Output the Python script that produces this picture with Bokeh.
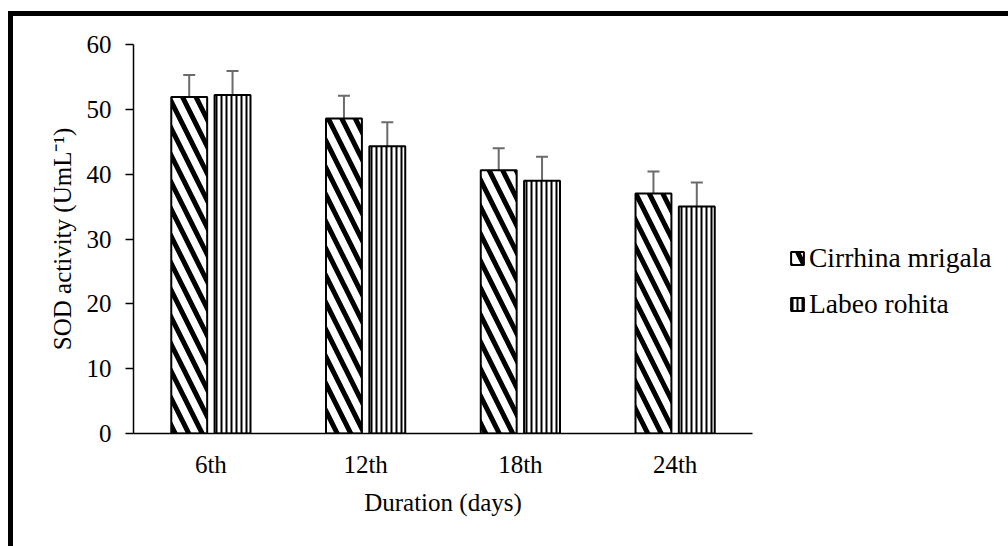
from bokeh.plotting import figure
from bokeh.models import (ColumnDataSource, FactorRange, Whisker, TeeHead, Legend,
                          LegendItem)
from bokeh.transform import dodge
from bokeh.embed import file_html
from bokeh.resources import INLINE

days = ["6th", "12th", "18th", "24th"]
cirrhina = [51.9, 48.6, 40.6, 37.0]
cirrhina_err = [3.4, 3.5, 3.4, 3.4]
labeo = [52.2, 44.3, 39.0, 35.0]
labeo_err = [3.7, 3.7, 3.7, 3.7]

src = ColumnDataSource(dict(
    days=days,
    c=cirrhina,
    c_up=[v + e for v, e in zip(cirrhina, cirrhina_err)],
    c_lo=[v - e for v, e in zip(cirrhina, cirrhina_err)],
    l=labeo,
    l_up=[v + e for v, e in zip(labeo, labeo_err)],
    l_lo=[v - e for v, e in zip(labeo, labeo_err)],
))

FONT = "Liberation Serif"

p = figure(width=995, height=530, frame_width=619, frame_height=389,
           x_range=FactorRange(*days, range_padding=0),
           y_range=(0, 60), output_backend="svg", toolbar_location=None,
           min_border_left=120, min_border_right=256, min_border_top=28,
           min_border_bottom=113,
           styles={"border-top": "5px solid black", "border-left": "5px solid black",
                   "margin-top": "11px", "margin-left": "8px"})
p.x_range.range_padding = 0
p.outline_line_color = None
p.xgrid.grid_line_color = None
p.ygrid.grid_line_color = None

bw = 0.232
rc = p.vbar(x=dodge("days", -0.14, range=p.x_range), top="c", width=bw, source=src,
            fill_color="white", line_color="black", line_width=2,
            hatch_pattern="left_diagonal_line", hatch_color="black",
            hatch_scale=27, hatch_weight=5)
rl = p.vbar(x=dodge("days", 0.14, range=p.x_range), top="l", width=bw, source=src,
            fill_color="white", line_color="black", line_width=2,
            hatch_pattern="vertical_line", hatch_color="black",
            hatch_scale=5, hatch_weight=2)

ecol = "#6b6b6b"
for base, up, lo in [(-0.14, "c_up", "c_lo"), (0.14, "l_up", "l_lo")]:
    w = Whisker(base=dodge("days", base, range=p.x_range), upper=up, lower=lo, source=src,
                line_color=ecol, line_width=2,
                upper_head=TeeHead(size=12, line_color=ecol, line_width=2),
                lower_head=TeeHead(size=12, line_color=ecol, line_width=2))
    p.add_layout(w)

# axes
p.yaxis.ticker = [0, 10, 20, 30, 40, 50, 60]
p.yaxis.minor_tick_line_color = None
p.yaxis.major_tick_in = 0
p.yaxis.major_tick_out = 8
p.yaxis.major_tick_line_color = "black"
p.yaxis.major_tick_line_width = 1.5
p.yaxis.axis_line_color = "black"
p.yaxis.axis_line_width = 1.5
p.yaxis.major_label_standoff = 14
p.yaxis.axis_label = "SOD activity (UmL\u207b\u00b9)"
p.yaxis.axis_label_standoff = 8

p.xaxis.major_tick_line_color = None
p.xaxis.major_tick_in = 0
p.xaxis.major_tick_out = 0
p.xaxis.axis_line_color = "black"
p.xaxis.axis_line_width = 1.5
p.xaxis.major_label_standoff = 17
p.xaxis.axis_label = "Duration (days)"
p.xaxis.axis_label_standoff = 8

for ax in (p.xaxis[0], p.yaxis[0]):
    ax.major_label_text_font = FONT
    ax.major_label_text_font_size = "25px"
    ax.major_label_text_color = "black"
    ax.axis_label_text_font = FONT
    ax.axis_label_text_font_size = "25px"
    ax.axis_label_text_font_style = "normal"
    ax.axis_label_text_color = "black"

legend = Legend(items=[LegendItem(label="Cirrhina mrigala", renderers=[rc]),
                       LegendItem(label="Labeo rohita", renderers=[rl])],
                location=(37, 113), orientation="vertical",
                glyph_width=16, glyph_height=16, label_standoff=4,
                spacing=14, padding=0, margin=0,
                border_line_color=None, background_fill_alpha=0,
                label_text_font=FONT, label_text_font_size="27.5px",
                label_text_color="black")
p.add_layout(legend, "right")

open("out.html", "w").write(file_html(p, INLINE))
